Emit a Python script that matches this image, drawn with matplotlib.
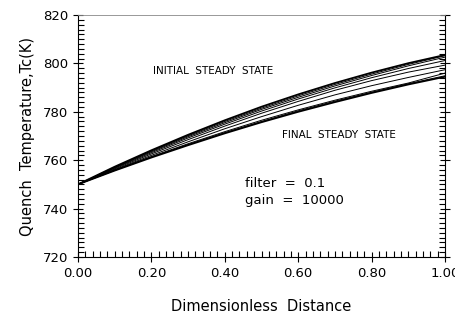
import matplotlib
matplotlib.use("Agg")
import matplotlib.pyplot as plt
from matplotlib.ticker import MultipleLocator, FormatStrFormatter

# dimensionless distance grid
dist = [0.0, 0.1, 0.2, 0.3, 0.4, 0.5, 0.6, 0.7, 0.8, 0.9, 1.0]

# quench temperature profiles (K), initial -> final steady state
t_initial = [750.0, 757.3, 764.1, 770.5, 776.5, 782.1, 787.2, 791.9, 796.2, 800.1, 803.5]
t_prof_1 = [750.0, 757.1, 763.8, 770.1, 776.0, 781.5, 786.6, 791.3, 795.6, 799.6, 803.2]
t_prof_2 = [750.0, 756.9, 763.5, 769.7, 775.5, 781.0, 786.0, 790.7, 795.0, 799.0, 802.6]
t_prof_3 = [750.0, 756.7, 763.1, 769.2, 774.9, 780.3, 785.3, 789.9, 794.1, 797.9, 801.2]
t_prof_4 = [750.0, 756.4, 762.6, 768.5, 774.1, 779.4, 784.3, 788.9, 792.9, 796.4, 799.3]
t_prof_5 = [750.0, 756.1, 762.0, 767.6, 773.0, 778.0, 782.7, 787.0, 790.8, 794.2, 797.4]
t_prof_6 = [750.0, 755.9, 761.5, 766.8, 771.8, 776.5, 780.8, 784.8, 788.5, 791.9, 796.0]
t_prof_7 = [750.0, 755.8, 761.3, 766.5, 771.4, 776.0, 780.4, 784.4, 788.1, 791.6, 794.9]
t_final = [750.0, 755.7, 761.1, 766.2, 771.1, 775.7, 780.0, 784.0, 787.8, 791.3, 794.5]

profiles = [t_initial, t_prof_1, t_prof_2, t_prof_3, t_prof_4,
            t_prof_5, t_prof_6, t_prof_7, t_final]

fig = plt.figure(figsize=(4.56, 3.2), dpi=100)
ax = fig.add_axes([0.171, 0.197, 0.805, 0.756])

for i, prof in enumerate(profiles):
    lw = 1.3 if i in (0, len(profiles) - 1) else 0.7
    ax.plot(dist, prof, color='black', linewidth=lw)

ax.set_xlim(0, 1)
ax.set_ylim(720, 820)
ax.xaxis.set_major_locator(MultipleLocator(0.2))
ax.xaxis.set_minor_locator(MultipleLocator(0.02))
ax.yaxis.set_major_locator(MultipleLocator(20))
ax.yaxis.set_minor_locator(MultipleLocator(2))
ax.xaxis.set_major_formatter(FormatStrFormatter('%.2f'))

ax.tick_params(which='major', direction='inout', length=7, width=0.8,
               labelsize=9.5, right=True, top=False)
ax.tick_params(which='minor', direction='in', length=4, width=0.8,
               right=True, top=False)
ax.spines['top'].set_color('#888888')
ax.spines['top'].set_linewidth(0.6)

ax.set_xlabel('Dimensionless  Distance', fontsize=10.5, labelpad=14)
ax.set_ylabel('Quench  Temperature,Tc(K)', fontsize=10.5, labelpad=6)

ax.text(0.205, 0.77, 'INITIAL  STEADY  STATE', transform=ax.transAxes,
        fontsize=7.5, va='center')
ax.text(0.555, 0.505, 'FINAL  STEADY  STATE', transform=ax.transAxes,
        fontsize=7.5, va='center')
ax.text(0.455, 0.305, 'filter  =  0.1', transform=ax.transAxes,
        fontsize=9.5, va='center')
ax.text(0.455, 0.235, 'gain  =  10000', transform=ax.transAxes,
        fontsize=9.5, va='center')

fig.savefig('out.png', dpi=100)
